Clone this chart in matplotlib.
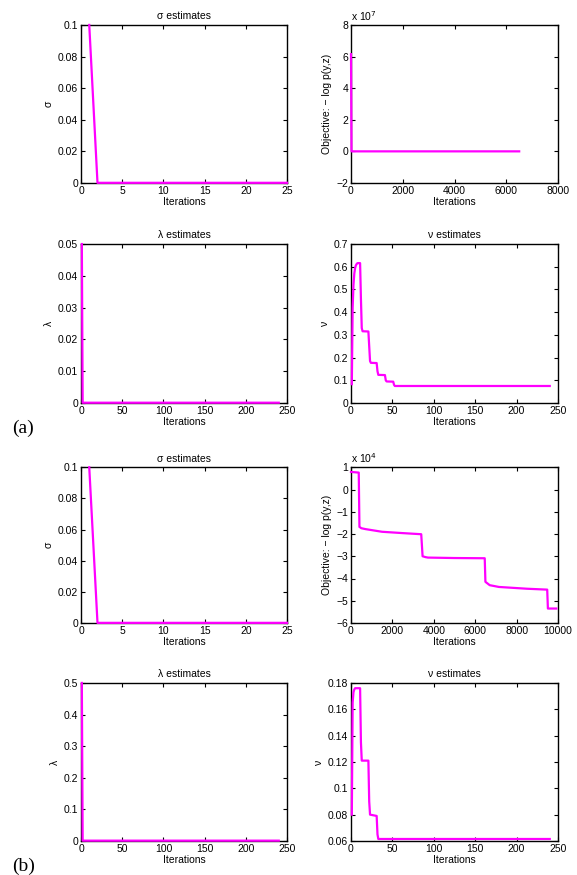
import numpy as np
import matplotlib
matplotlib.use("Agg")
import matplotlib.pyplot as plt
from matplotlib.ticker import FuncFormatter

plt.rcParams['font.family'] = ['Liberation Sans', 'DejaVu Sans']
plt.rcParams['font.size'] = 7.5
plt.rcParams['axes.linewidth'] = 1.0
plt.rcParams['xtick.direction'] = 'in'
plt.rcParams['ytick.direction'] = 'in'
plt.rcParams['xtick.top'] = True
plt.rcParams['ytick.right'] = True
plt.rcParams['xtick.major.size'] = 3
plt.rcParams['ytick.major.size'] = 3
plt.rcParams['xtick.major.pad'] = 2
plt.rcParams['ytick.major.pad'] = 2

MAG = '#ff00ff'

# ---- run (a) ----
sigma_a_iter = list(range(1, 26))
sigma_a = [0.1] + [0.0001] * 24

obj_a_iter = [1, 20, 500, 2000, 4000, 6500]
obj_a = [6.15e7, 0.0, 0.0, 0.0, 0.0, 0.0]

lam_a_iter = [1, 2, 100, 240]
lam_a = [0.05, 0.0001, 0.0001, 0.0001]

nu_a_iter = [1, 2, 3, 4, 5, 6, 7, 8, 11, 12, 13, 14, 21, 22, 23, 24, 31, 32, 33,
             41, 42, 43, 51, 52, 53, 240]
nu_a = [0.083, 0.42, 0.52, 0.57, 0.595, 0.607, 0.613, 0.616, 0.616, 0.46, 0.33,
        0.316, 0.315, 0.25, 0.185, 0.177, 0.176, 0.14, 0.124, 0.123, 0.10,
        0.095, 0.094, 0.08, 0.075, 0.075]

# ---- run (b) ----
sigma_b_iter = list(range(1, 26))
sigma_b = [0.1] + [0.0001] * 24

obj_b_iter = [1, 375, 408, 500, 700, 1500, 2500, 3393, 3458, 3600, 3719, 5000,
              6460, 6493, 6700, 7145, 8500, 9478, 9511, 9918]
obj_b = [0.79e4, 0.76e4, -1.68e4, -1.74e4, -1.78e4, -1.9e4, -1.96e4, -2.01e4,
         -3.0e4, -3.04e4, -3.06e4, -3.08e4, -3.09e4, -4.15e4, -4.3e4, -4.38e4,
         -4.46e4, -4.5e4, -5.35e4, -5.35e4]

lam_b_iter = [1, 2, 100, 240]
lam_b = [0.5, 0.001, 0.001, 0.001]

nu_b_iter = [1, 2, 3, 4, 5, 11, 12, 13, 21, 22, 23, 31, 32, 33, 240]
nu_b = [0.080, 0.165, 0.173, 0.175, 0.176, 0.176, 0.135, 0.121, 0.121, 0.09,
        0.080, 0.079, 0.065, 0.0615, 0.0615]

fmt_g = FuncFormatter(lambda v, p: '%g' % v)


def panel(rect, x, y, xlim, xticks, ylim, yticks, ylabel, title=None,
          scale=None):
    ax = fig.add_axes(rect)
    ax.plot(x, y, color=MAG, lw=1.6, clip_on=False, zorder=5)
    ax.set_xlim(*xlim)
    ax.set_ylim(*ylim)
    ax.set_xticks(xticks)
    ax.set_yticks(yticks)
    ax.xaxis.set_major_formatter(fmt_g)
    if scale:
        ax.yaxis.set_major_formatter(
            FuncFormatter(lambda v, p: ('%g' % (v / 10 ** scale)).replace('-', '\u2212')))
        ax.text(0.0, 1.015, 'x 10$^{%d}$' % scale, transform=ax.transAxes,
                ha='left', va='bottom', fontsize=7.5)
    else:
        ax.yaxis.set_major_formatter(fmt_g)
    ax.set_xlabel('Iterations', labelpad=1)
    ax.set_ylabel(ylabel, labelpad=3)
    if title:
        ax.set_title(title, fontsize=7.5, pad=4)
    return ax


fig = plt.figure(figsize=(5.77, 8.75), dpi=100)

L1, W1 = 0.1404, 0.357
L2, W2 = 0.6083, 0.3588

# (a)
panel([L1, 0.7909, W1, 0.1806], sigma_a_iter, sigma_a, (0, 25),
      [0, 5, 10, 15, 20, 25], (0, 0.1), np.arange(0, 0.101, 0.02),
      '\u03c3', '\u03c3 estimates')
panel([L2, 0.7909, W2, 0.1806], obj_a_iter, obj_a, (0, 8000),
      [0, 2000, 4000, 6000, 8000], (-2e7, 8e7), np.arange(-2e7, 8.1e7, 2e7),
      'Objective: \u2212 log p(y,z)', scale=7)
panel([L1, 0.5394, W1, 0.1817], lam_a_iter, lam_a, (0, 250),
      [0, 50, 100, 150, 200, 250], (0, 0.05), np.arange(0, 0.0501, 0.01),
      '\u03bb', '\u03bb estimates')
panel([L2, 0.5394, W2, 0.1817], nu_a_iter, nu_a, (0, 250),
      [0, 50, 100, 150, 200, 250], (0, 0.7), np.arange(0, 0.71, 0.1),
      '\u03bd', '\u03bd estimates')

# (b)
panel([L1, 0.288, W1, 0.178], sigma_b_iter, sigma_b, (0, 25),
      [0, 5, 10, 15, 20, 25], (0, 0.1), np.arange(0, 0.101, 0.02),
      '\u03c3', '\u03c3 estimates')
panel([L2, 0.288, W2, 0.178], obj_b_iter, obj_b, (0, 10000),
      [0, 2000, 4000, 6000, 8000, 10000], (-6e4, 1e4),
      np.arange(-6e4, 1.1e4, 1e4), 'Objective: \u2212 log p(y,z)', scale=4)
panel([L1, 0.0389, W1, 0.1806], lam_b_iter, lam_b, (0, 250),
      [0, 50, 100, 150, 200, 250], (0, 0.5), np.arange(0, 0.51, 0.1),
      '\u03bb', '\u03bb estimates')
panel([L2, 0.0389, W2, 0.1806], nu_b_iter, nu_b, (0, 250),
      [0, 50, 100, 150, 200, 250], (0.06, 0.18), np.arange(0.06, 0.181, 0.02),
      '\u03bd', '\u03bd estimates')

fig.text(0.04, 1 - 428 / 875, '(a)', family='Liberation Serif', fontsize=14,
         ha='center', va='center')
fig.text(0.04, 1 - 866 / 875, '(b)', family='Liberation Serif', fontsize=14,
         ha='center', va='center')

fig.savefig('out.png', dpi=100)
